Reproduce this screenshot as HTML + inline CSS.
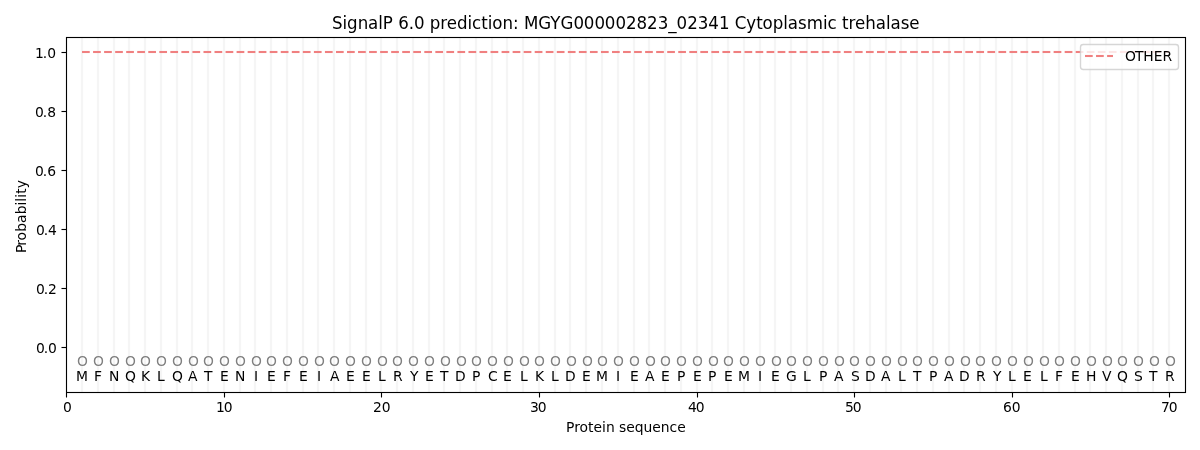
<!DOCTYPE html>
<html lang="en"><head><meta charset="utf-8"><title>SignalP 6.0 prediction</title>
<style>html,body{margin:0;padding:0;background:#fff}body{width:1200px;height:450px;overflow:hidden}svg{display:block}text{font-family:"DejaVu Sans","Liberation Sans",sans-serif;fill:#000;white-space:pre}.s{font-size:13.889px}.t{font-size:17.9px}.g{fill:#808080}</style></head><body>
<svg width="1200" height="450" viewBox="0 0 1200 450">
<rect width="1200" height="450" fill="#fff"/>
<path d="M82 37.5V392.5M98 37.5V392.5M114 37.5V392.5M129 37.5V392.5M145 37.5V392.5M161 37.5V392.5M177 37.5V392.5M192 37.5V392.5M208 37.5V392.5M224 37.5V392.5M240 37.5V392.5M255 37.5V392.5M271 37.5V392.5M287 37.5V392.5M303 37.5V392.5M318 37.5V392.5M334 37.5V392.5M350 37.5V392.5M366 37.5V392.5M381 37.5V392.5M397 37.5V392.5M413 37.5V392.5M429 37.5V392.5M444 37.5V392.5M460 37.5V392.5M476 37.5V392.5M492 37.5V392.5M507 37.5V392.5M523 37.5V392.5M539 37.5V392.5M555 37.5V392.5M570 37.5V392.5M586 37.5V392.5M602 37.5V392.5M618 37.5V392.5M634 37.5V392.5M649 37.5V392.5M665 37.5V392.5M681 37.5V392.5M697 37.5V392.5M712 37.5V392.5M728 37.5V392.5M744 37.5V392.5M760 37.5V392.5M775 37.5V392.5M791 37.5V392.5M807 37.5V392.5M823 37.5V392.5M838 37.5V392.5M854 37.5V392.5M870 37.5V392.5M886 37.5V392.5M901 37.5V392.5M917 37.5V392.5M933 37.5V392.5M949 37.5V392.5M964 37.5V392.5M980 37.5V392.5M996 37.5V392.5M1012 37.5V392.5M1027 37.5V392.5M1043 37.5V392.5M1059 37.5V392.5M1075 37.5V392.5M1090 37.5V392.5M1106 37.5V392.5M1122 37.5V392.5M1138 37.5V392.5M1153 37.5V392.5M1169 37.5V392.5" stroke="#f5f5f5" stroke-opacity="0.1" stroke-width="4" fill="none"/>
<path d="M82 37.5V392.5M98 37.5V392.5M114 37.5V392.5M129 37.5V392.5M145 37.5V392.5M161 37.5V392.5M177 37.5V392.5M192 37.5V392.5M208 37.5V392.5M224 37.5V392.5M240 37.5V392.5M255 37.5V392.5M271 37.5V392.5M287 37.5V392.5M303 37.5V392.5M318 37.5V392.5M334 37.5V392.5M350 37.5V392.5M366 37.5V392.5M381 37.5V392.5M397 37.5V392.5M413 37.5V392.5M429 37.5V392.5M444 37.5V392.5M460 37.5V392.5M476 37.5V392.5M492 37.5V392.5M507 37.5V392.5M523 37.5V392.5M539 37.5V392.5M555 37.5V392.5M570 37.5V392.5M586 37.5V392.5M602 37.5V392.5M618 37.5V392.5M634 37.5V392.5M649 37.5V392.5M665 37.5V392.5M681 37.5V392.5M697 37.5V392.5M712 37.5V392.5M728 37.5V392.5M744 37.5V392.5M760 37.5V392.5M775 37.5V392.5M791 37.5V392.5M807 37.5V392.5M823 37.5V392.5M838 37.5V392.5M854 37.5V392.5M870 37.5V392.5M886 37.5V392.5M901 37.5V392.5M917 37.5V392.5M933 37.5V392.5M949 37.5V392.5M964 37.5V392.5M980 37.5V392.5M996 37.5V392.5M1012 37.5V392.5M1027 37.5V392.5M1043 37.5V392.5M1059 37.5V392.5M1075 37.5V392.5M1090 37.5V392.5M1106 37.5V392.5M1122 37.5V392.5M1138 37.5V392.5M1153 37.5V392.5M1169 37.5V392.5" stroke="#f5f5f5" stroke-width="2.083" fill="none"/>
<path d="M82.03 52H1169.24" stroke="#f08080" stroke-opacity="0.045" stroke-width="4" stroke-dasharray="7.708 3.333" fill="none"/>
<path d="M82.03 52H1169.24" stroke="#f08080" stroke-width="2.083" stroke-dasharray="7.708 3.333" fill="none"/>
<path d="M61.5 52.5H66M61.5 111.5H66M61.5 170.5H66M61.5 229.5H66M61.5 288.5H66M61.5 347.5H66M66 37.5H1186M66 392.5H1186" stroke="#000" stroke-opacity="0.055" stroke-width="3" fill="none"/>
<path d="M66.5 392.5V397.5M224.5 392.5V397.5M381.5 392.5V397.5M539.5 392.5V397.5M697.5 392.5V397.5M854.5 392.5V397.5M1012.5 392.5V397.5M1169.5 392.5V397.5M61.5 52.5H66.5M61.5 111.5H66.5M61.5 170.5H66.5M61.5 229.5H66.5M61.5 288.5H66.5M61.5 347.5H66.5" stroke="#000" stroke-width="1.111" fill="none"/>
<path d="M66.5 392.5V37.5M1185.5 392.5V37.5M66.5 392.5H1185.5M66.5 37.5H1185.5" stroke="#000" stroke-width="1.111" stroke-linecap="square" fill="none"/>
<text class="s" x="63" y="412">0</text>
<text class="s" x="216 223.75" y="412">10</text>
<text class="s" x="373 381.75" y="412">20</text>
<text class="s" x="530 537.75" y="412">30</text>
<text class="s" x="688 695.75" y="412">40</text>
<text class="s" x="845 852.75" y="412">50</text>
<text class="s" x="1003 1011.75" y="412">60</text>
<text class="s" x="1161 1168.75" y="412">70</text>
<text class="s" x="566 574.25 579.5 588 593.5 602 606 614.75 619 626.25 634.75 643.5 652.25 660.75 669.5 677.25" y="432">Protein sequence</text>
<text class="s" x="36 43.75 48" y="352.7">0.0</text>
<text class="s" x="36 43.75 48" y="293.64">0.2</text>
<text class="s" x="36 43.75 48" y="234.57">0.4</text>
<text class="s" x="35 42.75 47.25" y="175.51">0.6</text>
<text class="s" x="35 42.75 47.25" y="117.44">0.8</text>
<text class="s" x="35 42.75 47.25" y="58.38">1.0</text>
<text class="s" x="-9.91 -2.79 2.59 11.21 20.09 28.71 37.59 41.34 45.34 49.21 54.71" y="214.53" transform="translate(-0.12 2.5) rotate(-90 26.02 214.53)">Probability</text>
<text class="s g" x="77" y="366.02">O</text>
<text class="s" x="76" y="380.79">M</text>
<text class="s g" x="93" y="366.02">O</text>
<text class="s" x="94" y="380.79">F</text>
<text class="s g" x="109" y="366.02">O</text>
<text class="s" x="109" y="380.79">N</text>
<text class="s g" x="125" y="366.02">O</text>
<text class="s" x="125" y="380.79">Q</text>
<text class="s g" x="140" y="366.02">O</text>
<text class="s" x="141" y="380.79">K</text>
<text class="s g" x="156" y="366.02">O</text>
<text class="s" x="157" y="380.79">L</text>
<text class="s g" x="172" y="366.02">O</text>
<text class="s" x="172" y="380.79">Q</text>
<text class="s g" x="188" y="366.02">O</text>
<text class="s" x="188" y="380.79">A</text>
<text class="s g" x="203" y="366.02">O</text>
<text class="s" x="204" y="380.79">T</text>
<text class="s g" x="219" y="366.02">O</text>
<text class="s" x="220" y="380.79">E</text>
<text class="s g" x="235" y="366.02">O</text>
<text class="s" x="235" y="380.79">N</text>
<text class="s g" x="251" y="366.02">O</text>
<text class="s" x="254" y="380.79">I</text>
<text class="s g" x="266" y="366.02">O</text>
<text class="s" x="267" y="380.79">E</text>
<text class="s g" x="282" y="366.02">O</text>
<text class="s" x="283" y="380.79">F</text>
<text class="s g" x="298" y="366.02">O</text>
<text class="s" x="299" y="380.79">E</text>
<text class="s g" x="314" y="366.02">O</text>
<text class="s" x="317" y="380.79">I</text>
<text class="s g" x="329" y="366.02">O</text>
<text class="s" x="330" y="380.79">A</text>
<text class="s g" x="345" y="366.02">O</text>
<text class="s" x="346" y="380.79">E</text>
<text class="s g" x="361" y="366.02">O</text>
<text class="s" x="362" y="380.79">E</text>
<text class="s g" x="377" y="366.02">O</text>
<text class="s" x="378" y="380.79">L</text>
<text class="s g" x="392" y="366.02">O</text>
<text class="s" x="393" y="380.79">R</text>
<text class="s g" x="408" y="366.02">O</text>
<text class="s" x="410" y="380.79">Y</text>
<text class="s g" x="424" y="366.02">O</text>
<text class="s" x="425" y="380.79">E</text>
<text class="s g" x="440" y="366.02">O</text>
<text class="s" x="440" y="380.79">T</text>
<text class="s g" x="456" y="366.02">O</text>
<text class="s" x="455" y="380.79">D</text>
<text class="s g" x="471" y="366.02">O</text>
<text class="s" x="472" y="380.79">P</text>
<text class="s g" x="487" y="366.02">O</text>
<text class="s" x="488" y="380.79">C</text>
<text class="s g" x="503" y="366.02">O</text>
<text class="s" x="503" y="380.79">E</text>
<text class="s g" x="519" y="366.02">O</text>
<text class="s" x="520" y="380.79">L</text>
<text class="s g" x="534" y="366.02">O</text>
<text class="s" x="535" y="380.79">K</text>
<text class="s g" x="550" y="366.02">O</text>
<text class="s" x="551" y="380.79">L</text>
<text class="s g" x="566" y="366.02">O</text>
<text class="s" x="565" y="380.79">D</text>
<text class="s g" x="582" y="366.02">O</text>
<text class="s" x="582" y="380.79">E</text>
<text class="s g" x="597" y="366.02">O</text>
<text class="s" x="596" y="380.79">M</text>
<text class="s g" x="613" y="366.02">O</text>
<text class="s" x="616" y="380.79">I</text>
<text class="s g" x="629" y="366.02">O</text>
<text class="s" x="630" y="380.79">E</text>
<text class="s g" x="645" y="366.02">O</text>
<text class="s" x="645" y="380.79">A</text>
<text class="s g" x="660" y="366.02">O</text>
<text class="s" x="661" y="380.79">E</text>
<text class="s g" x="676" y="366.02">O</text>
<text class="s" x="677" y="380.79">P</text>
<text class="s g" x="692" y="366.02">O</text>
<text class="s" x="693" y="380.79">E</text>
<text class="s g" x="708" y="366.02">O</text>
<text class="s" x="708" y="380.79">P</text>
<text class="s g" x="723" y="366.02">O</text>
<text class="s" x="724" y="380.79">E</text>
<text class="s g" x="739" y="366.02">O</text>
<text class="s" x="738" y="380.79">M</text>
<text class="s g" x="755" y="366.02">O</text>
<text class="s" x="758" y="380.79">I</text>
<text class="s g" x="771" y="366.02">O</text>
<text class="s" x="771" y="380.79">E</text>
<text class="s g" x="786" y="366.02">O</text>
<text class="s" x="786" y="380.79">G</text>
<text class="s g" x="802" y="366.02">O</text>
<text class="s" x="803" y="380.79">L</text>
<text class="s g" x="818" y="366.02">O</text>
<text class="s" x="819" y="380.79">P</text>
<text class="s g" x="834" y="366.02">O</text>
<text class="s" x="834" y="380.79">A</text>
<text class="s g" x="849" y="366.02">O</text>
<text class="s" x="851" y="380.79">S</text>
<text class="s g" x="865" y="366.02">O</text>
<text class="s" x="865" y="380.79">D</text>
<text class="s g" x="881" y="366.02">O</text>
<text class="s" x="881" y="380.79">A</text>
<text class="s g" x="897" y="366.02">O</text>
<text class="s" x="898" y="380.79">L</text>
<text class="s g" x="912" y="366.02">O</text>
<text class="s" x="913" y="380.79">T</text>
<text class="s g" x="928" y="366.02">O</text>
<text class="s" x="929" y="380.79">P</text>
<text class="s g" x="944" y="366.02">O</text>
<text class="s" x="944" y="380.79">A</text>
<text class="s g" x="960" y="366.02">O</text>
<text class="s" x="959" y="380.79">D</text>
<text class="s g" x="975" y="366.02">O</text>
<text class="s" x="976" y="380.79">R</text>
<text class="s g" x="991" y="366.02">O</text>
<text class="s" x="993" y="380.79">Y</text>
<text class="s g" x="1007" y="366.02">O</text>
<text class="s" x="1008" y="380.79">L</text>
<text class="s g" x="1023" y="366.02">O</text>
<text class="s" x="1023" y="380.79">E</text>
<text class="s g" x="1039" y="366.02">O</text>
<text class="s" x="1040" y="380.79">L</text>
<text class="s g" x="1054" y="366.02">O</text>
<text class="s" x="1055" y="380.79">F</text>
<text class="s g" x="1070" y="366.02">O</text>
<text class="s" x="1071" y="380.79">E</text>
<text class="s g" x="1086" y="366.02">O</text>
<text class="s" x="1086" y="380.79">H</text>
<text class="s g" x="1102" y="366.02">O</text>
<text class="s" x="1102" y="380.79">V</text>
<text class="s g" x="1117" y="366.02">O</text>
<text class="s" x="1117" y="380.79">Q</text>
<text class="s g" x="1133" y="366.02">O</text>
<text class="s" x="1134" y="380.79">S</text>
<text class="s g" x="1149" y="366.02">O</text>
<text class="s" x="1149" y="380.79">T</text>
<text class="s g" x="1165" y="366.02">O</text>
<text class="s" x="1165" y="380.79">R</text>
<text class="t" transform="scale(0.93112 1)" x="356.561 367.838 372.671 384.216 395.224 406.232 411.2 422.074 427.712 438.989 444.627 455.904 461.542 472.819 479.8 490.808 502.085 506.918 516.852 523.833 528.8 539.674 550.951 557.126 562.765 578.203 591.091 601.965 615.927 627.069 638.48 649.623 661.034 672.311 683.587 694.864 706.409 717.686 726.546 738.092 749.369 760.78 772.191 783.467 789.106 801.456 812.331 818.909 829.917 841.194 846.161 857.035 866.432 883.884 888.717 898.652 904.29 911.271 918.252 929.26 940.537 951.545 956.378 967.252 976.649" y="29">SignalP 6.0 prediction: MGYG000002823_02341 Cytoplasmic trehalase</text>
<rect x="1080.5" y="44.5" width="98" height="25" rx="2.78" ry="2.78" fill="#fff" fill-opacity="0.8" stroke="#ccc" stroke-opacity="0.8" stroke-width="1.389"/>
<path d="M1085 56H1113" stroke="#f08080" stroke-opacity="0.045" stroke-width="4" stroke-dasharray="7.708 3.333" fill="none"/>
<path d="M1085 56H1113" stroke="#f08080" stroke-width="2.083" stroke-dasharray="7.708 3.333" fill="none"/>
<text class="s" x="1125 1135 1143.25 1153.75 1162.5" y="61.39">OTHER</text>
</svg></body></html>
